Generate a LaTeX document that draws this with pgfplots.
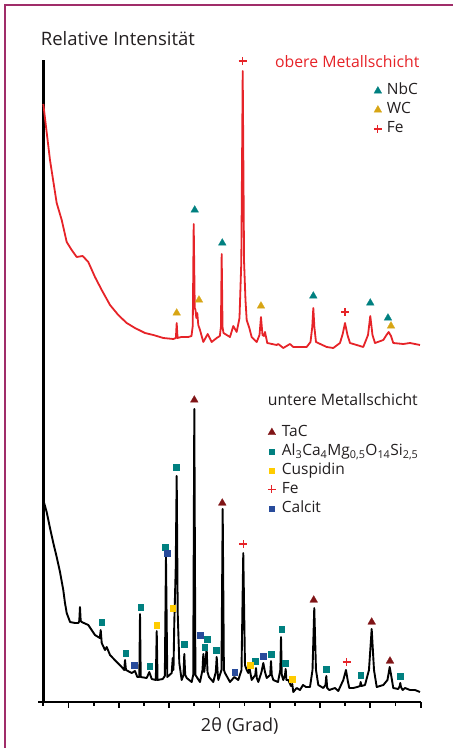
\documentclass[border=0pt]{standalone}
\usepackage{fontspec}
\setmainfont{Open Sans}
\usepackage{pgfplots}
\usepackage{pgfplotstable}
\pgfplotsset{compat=1.18}
\definecolor{framec}{RGB}{160,45,105}
\definecolor{redc}{RGB}{230,35,40}
\definecolor{tealc}{RGB}{0,128,128}
\definecolor{goldc}{RGB}{215,165,20}
\definecolor{tacc}{RGB}{128,20,22}
\definecolor{cuspc}{RGB}{255,204,0}
\definecolor{calcc}{RGB}{40,75,155}
\definecolor{txt}{RGB}{35,31,32}

\pgfplotstableread{
x y
5.00 598
6.33 542
7.66 499
8.66 482
9.65 460
10.64 452
11.64 445
12.83 446
13.94 440
15.27 425
16.61 412
18.26 397
19.90 387
21.57 379
23.22 374
25.21 369
26.86 367
28.85 364
30.84 363
31.35 364
31.51 379
31.68 364
32.40 365
33.82 365
34.45 366
34.70 376
34.89 478
35.10 394
35.25 392
35.41 384
35.60 389
35.80 377
36.14 372
36.80 360
37.67 368
38.46 360
39.46 364
40.08 366
40.30 375
40.45 448
40.62 375
40.81 369
42.10 365
42.76 376
43.43 370
43.99 384
44.35 440
44.63 631
44.90 440
45.18 402
45.42 382
45.94 374
46.41 365
47.41 360
47.97 367
48.26 385
48.56 367
48.86 366
49.06 370
49.51 359
51.38 357
51.70 358
52.69 354
54.03 358
54.68 355
57.34 355
58.10 360
58.45 375
58.66 394
58.87 375
59.19 360
61.32 355
62.63 354
63.96 359
64.50 368
64.96 379
65.45 367
65.95 359
68.59 355
69.53 367
69.98 386
70.42 367
70.92 359
72.57 362
73.20 367
73.64 370
74.10 366
74.55 359
76.54 358
77.87 359
79.86 357
}\upperdata

\pgfplotstableread{
x y
5.00 202
5.67 190
6.33 174
6.99 159
7.66 145
8.32 130
8.97 112
9.31 99
9.65 89
10.32 80
11.31 79
11.97 79
12.15 81
12.29 95
12.43 81
12.63 80
13.94 77
15.27 67
16.23 64
16.41 72
16.61 59
17.26 52
17.60 55
18.26 47
19.59 40
20.58 35
21.08 32
21.24 42
21.43 32
22.57 29
23.22 31
23.68 25
24.08 25
24.22 88
24.36 25
25.55 24
26.07 30
26.54 23
27.36 22
27.54 71
27.71 22
28.73 23
29.15 26
29.38 145
29.64 25
30.52 29
30.72 44
30.87 32
31.03 79
31.31 132
31.51 226
31.71 89
32.03 39
32.50 22
32.86 27
33.02 48
33.20 27
33.50 24
34.49 20
34.79 27
35.01 293
35.23 27
35.49 25
36.14 20
36.64 32
36.80 48
36.98 30
37.47 53
37.63 30
37.93 25
38.78 20
39.28 30
39.46 45
39.64 30
39.78 22
40.41 32
40.65 193
40.89 32
41.11 29
42.10 20
42.96 25
43.75 22
44.39 32
44.74 149
45.08 37
45.42 32
45.74 29
45.98 34
46.41 22
47.13 27
47.27 34
47.43 24
47.73 20
48.36 30
48.72 39
49.06 30
49.40 24
50.09 27
50.25 41
50.41 27
50.71 22
51.64 20
52.10 32
52.24 65
52.40 27
52.69 22
53.03 27
53.17 33
53.31 22
53.69 22
54.22 16
54.48 18
54.68 10
55.36 14
56.01 12
56.61 17
57.20 15
58.00 15
58.50 32
58.85 94
59.19 32
59.65 17
60.64 14
61.08 17
61.24 26
61.42 14
61.84 12
62.97 14
63.62 11
64.62 22
65.15 32
65.55 20
65.81 14
66.61 14
67.40 15
67.94 16
68.07 20
68.23 16
68.93 17
69.72 32
70.26 73
70.72 32
71.26 15
72.57 17
73.40 22
73.84 35
74.29 22
74.55 14
75.55 13
75.83 16
75.94 19
76.08 15
76.42 12
76.88 14
77.87 12
78.87 12
79.86 10
}\lowerdata

\pgfplotsset{
  base/.style={scale only axis, width=377.4pt, height=642pt,
    xmin=5, xmax=80, ymin=0, ymax=642, clip=false,
    at={(0,0)}, anchor=south west},
  lm/.style={only marks,
    legend image code/.code={\path[draw=none,fill=none] (-4pt,-3.5pt) rectangle (4pt,3.5pt);
      \draw[##1] plot coordinates {(0pt,0pt)};}},
  tri/.style={lm, mark=triangle*, mark size=4.5pt, color=#1, mark options={line width=0.2pt}},
  sq/.style={lm, mark=square*, mark size=2.7pt, color=#1, mark options={line width=0.2pt}},
  pl/.style={lm, mark=+, mark size=4pt, color=redc, mark options={line width=1.2pt}},
  legfont/.style={font=\fontsize{15.5}{18}\selectfont},
}

\begin{document}
\begin{tikzpicture}
\path[use as bounding box] (-43.3pt,-46pt) rectangle (409.7pt,702pt);
\draw[framec, line width=1.3pt] (-38.3pt,-46pt) -- (-38.3pt,697pt) -- (409.7pt,697pt);

\begin{axis}[base,
  axis x line=bottom, axis y line=left,
  axis line style={-, line width=2.6pt, black},
  x axis line style={shorten <=-5pt},
  xtick={10,20,...,80}, minor xtick={5,15,...,75},
  xticklabels={}, ytick=\empty,
  tick align=outside, major tick length=5.5pt, minor tick length=3.5pt,
  tick style={black, line width=1.8pt},
  legend cell align=left,
  legend style={draw=none, fill=none, inner sep=0pt,
    at={(axis cs:70.66,618.5)}, anchor=north west,
    row sep=4.5pt, column sep=5pt,
    nodes={inner sep=0pt, text=txt, text height=11pt, text depth=3.5pt}, legfont},
]
\addplot[redc, line width=1.8pt, line join=round, forget plot] table[x=x,y=y] {\upperdata};
\addplot[tri=tealc] coordinates {(35.09,492) (40.57,459) (58.66,406) (69.98,399) (73.50,384)};
\addlegendentry{NbC}
\addplot[tri=goldc] coordinates {(31.51,389) (35.94,402) (48.26,396) (74.10,376)};
\addlegendentry{WC}
\addplot[pl] coordinates {(44.63,641) (64.96,390)};
\addlegendentry{Fe}
\end{axis}

\begin{axis}[base, hide axis,
  legend cell align=left,
  legend style={draw=none, fill=none, inner sep=0pt,
    at={(axis cs:49.59,277)}, anchor=north west,
    row sep=4.5pt, column sep=6pt,
    nodes={inner sep=0pt, text=txt, text height=11pt, text depth=3.5pt}, legfont},
]
\addplot[black, line width=1.9pt, line join=round, forget plot] table[x=x,y=y] {\lowerdata};
\addplot[tri=tacc] coordinates {(35.01,302) (40.57,199) (58.74,102) (70.26,80) (73.90,41)};
\addlegendentry{TaC}
\addplot[sq=tealc] coordinates {(16.53,80) (21.30,49) (24.28,95) (26.07,36) (29.24,155) (31.43,235) (33.02,58) (37.00,55) (37.59,63) (39.38,52) (47.13,41) (50.31,48) (52.30,73) (53.09,39) (61.24,33) (68.00,27) (75.94,26)};
\addlegendentry{Al\textsubscript{3}Ca\textsubscript{4}Mg\textsubscript{0,5}O\textsubscript{14}Si\textsubscript{2,5}}
\addplot[sq=cuspc] coordinates {(27.46,77) (30.64,94) (46.08,37) (54.48,23)};
\addlegendentry{Cuspidin}
\addplot[pl] coordinates {(44.74,158) (65.29,40)};
\addlegendentry{Fe}
\addplot[sq=calcc] coordinates {(23.08,37) (29.64,149) (36.14,67) (42.96,30) (48.72,46)};
\addlegendentry{Calcit}
\end{axis}

\node[anchor=base west, text=txt, font=\fontsize{18.5}{21}\selectfont] at (-6pt,656.3pt) {Relative Intensität};
\node[anchor=base west, text=redc, font=\fontsize{15.8}{18}\selectfont] at (228.3pt,634pt) {obere Metallschicht};
\node[anchor=base west, text=txt, font=\fontsize{15.8}{18}\selectfont] at (221pt,296.5pt) {untere Metallschicht};
\node[anchor=base, text=txt, font=\fontsize{18}{21}\selectfont] at (196.4pt,-29.7pt) {2θ (Grad)};
\end{tikzpicture}
\end{document}
